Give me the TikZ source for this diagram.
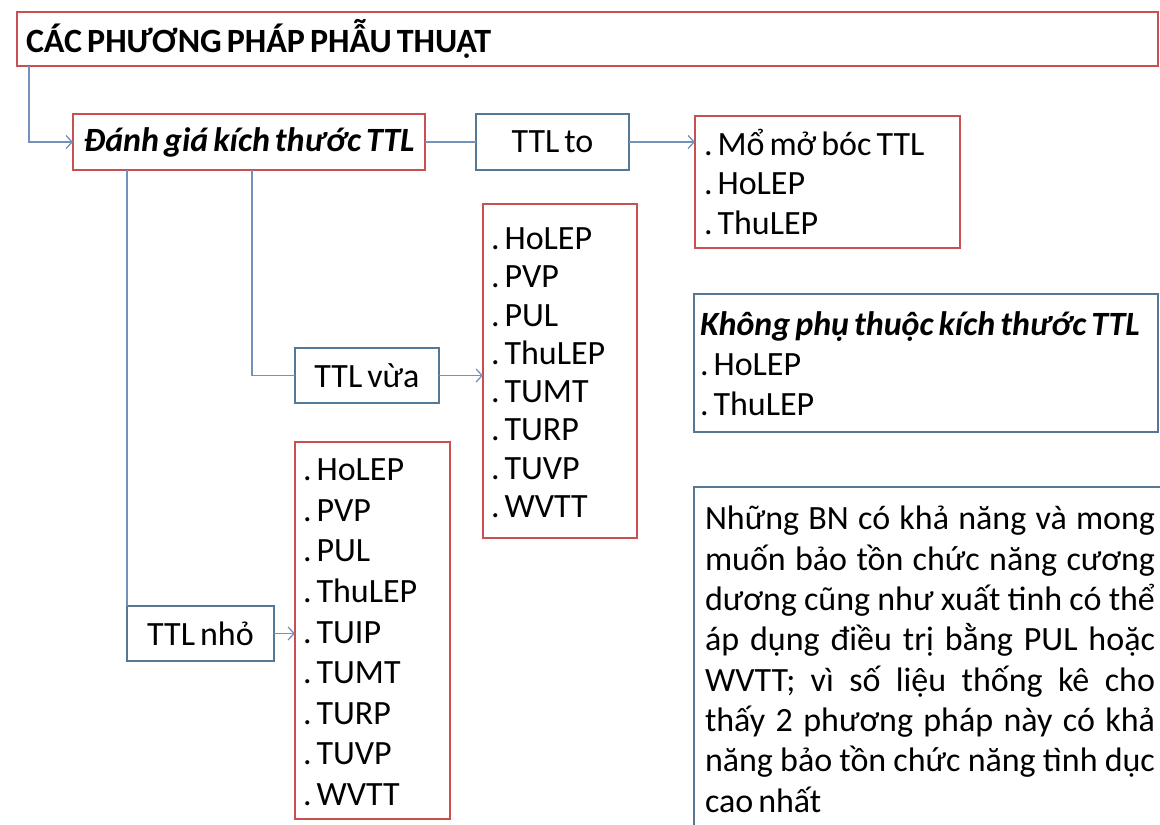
\documentclass[tikz,border=0pt]{standalone}
\usepackage{fontspec}
\setmainfont{Carlito}
\usetikzlibrary{arrows.meta}
\frenchspacing

\definecolor{boxred}{RGB}{200,80,80}
\definecolor{boxblue}{RGB}{85,120,150}
\definecolor{linkblue}{RGB}{115,145,185}

% strut giving every text line the same height and depth
\newcommand\lstrut{\rule[-5pt]{0pt}{35pt}}
% narrower word spaces
\newcommand\tightspaces{\spaceskip=5pt plus 12pt minus 2pt\relax}

\tikzset{
  every node/.style={inner sep=0pt, outer sep=0pt},
  txt/.style={font=\fontsize{34}{#1}\selectfont, execute at begin node=\tightspaces},
  txt/.default=40,
  redbox/.style={draw=boxred, line width=1.6pt, anchor=north west, fill=white},
  bluebox/.style={draw=boxblue, line width=1.6pt, anchor=north west, fill=white},
  link/.style={draw=linkblue, line width=1.4pt},
  arr/.style={link, -{Straight Barb[length=6pt,width=13pt,line width=1.3pt]}},
}

\begin{document}
\begin{tikzpicture}[x=1pt,y=-1pt]
\useasboundingbox (0,0) rectangle (1160,825);
\clip (0,0) rectangle (1160,825);

% heading
\node[redbox, txt, minimum width=1141pt, minimum height=54pt,
      text width=1123pt, align=left, inner xsep=9pt] (title) at (17,12)
  {\bfseries CÁC PHƯƠNG PHÁP PHẪU THUẬT};

% size assessment
\node[redbox, txt, minimum width=352pt, minimum height=56pt] (danhgia) at (73,114)
  {\bfseries\itshape Đánh giá kích thước TTL};

% large gland
\node[bluebox, txt, minimum width=153pt, minimum height=56pt] (ttlto) at (476,114)
  {TTL to};
\node[redbox, txt=39.5, minimum width=265pt, minimum height=132pt,
      text width=247pt, align=left, inner xsep=9pt] (list1) at (695,116)
  {\lstrut. Mổ mở bóc TTL\\. HoLEP\\. ThuLEP\lstrut};

% medium gland
\node[bluebox, txt, minimum width=144pt, minimum height=55pt] (vua) at (295,348)
  {TTL vừa};
\node[redbox, txt=38.3, minimum width=154pt, minimum height=334pt,
      text width=138pt, align=left, inner xsep=8pt] (list2) at (483,204)
  {\lstrut. HoLEP\\. PVP\\. PUL\\. ThuLEP\\. TUMT\\. TURP\\. TUVP\\. WVTT\lstrut};

% small gland
\node[bluebox, txt, minimum width=147pt, minimum height=55pt] (nho) at (127,606)
  {TTL nhỏ};
\node[redbox, txt=40.6, minimum width=155pt, minimum height=377pt,
      text width=139pt, align=left, inner xsep=8pt] (list3) at (295,442)
  {\lstrut. HoLEP\\. PVP\\. PUL\\. ThuLEP\\. TUIP\\. TUMT\\. TURP\\. TUVP\\. WVTT\lstrut};

% independent of size
\node[bluebox, txt, minimum width=464pt, minimum height=138pt,
      text width=452pt, align=left, inner xsep=6pt] (khong) at (694,294)
  {\lstrut\mbox{\bfseries\itshape Không phụ thuộc kích thước TTL}\\. HoLEP\\. ThuLEP\lstrut};

% note on preserving sexual function
\node[bluebox, txt=40.3, minimum width=470pt, minimum height=343pt,
      text width=450pt, align=left, inner xsep=11pt] (note) at (694,487)
  {\lstrut\makebox[450pt][s]{Những BN có khả năng và mong}\\
   \makebox[450pt][s]{muốn bảo tồn chức năng cương}\\
   \makebox[450pt][s]{dương cũng như xuất tinh có thể}\\
   \makebox[450pt][s]{áp dụng điều trị bằng PUL hoặc}\\
   \makebox[450pt][s]{WVTT; vì số liệu thống kê cho}\\
   \makebox[450pt][s]{thấy 2 phương pháp này có khả}\\
   \makebox[450pt][s]{năng bảo tồn chức năng tình dục}\\
   cao nhất\lstrut};

% connectors
\draw[arr] ([xshift=12pt]title.south west) |- (danhgia.west);
\draw[link] (danhgia.east) -- (ttlto.west);
\draw[arr] (ttlto.east) -- (ttlto.east -| list1.west);
\draw[link] ([xshift=179pt]danhgia.south west) |- (vua.west);
\draw[arr] (vua.east) -- (vua.east -| list2.west);
\draw[link] (danhgia.south -| nho.north west) -- (nho.north west);
\draw[arr] (nho.east) -- (nho.east -| list3.west);
\end{tikzpicture}
\end{document}
